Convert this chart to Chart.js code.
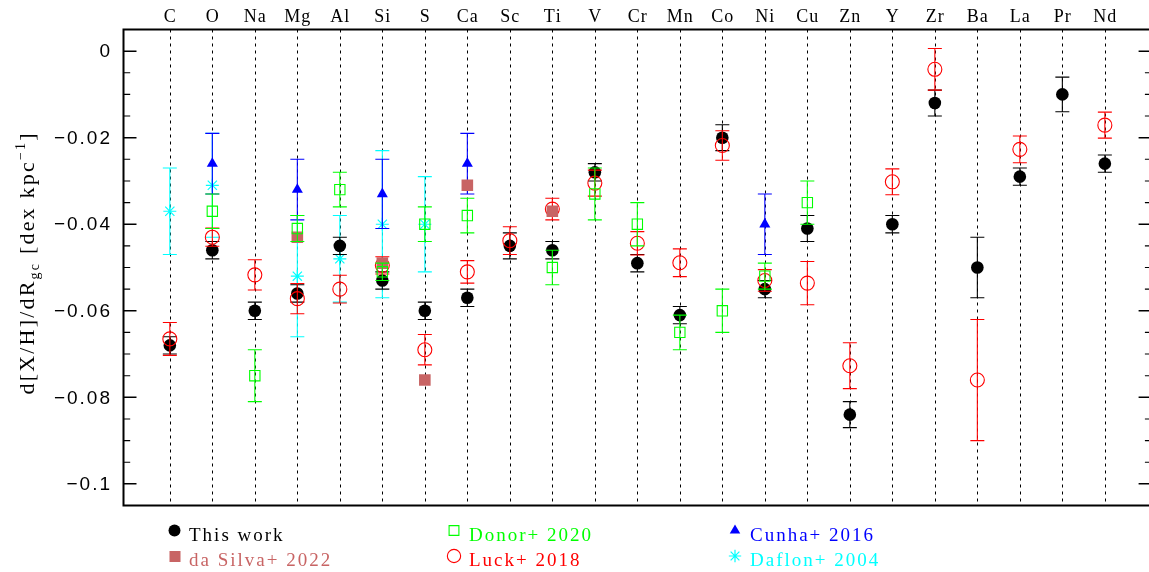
<!DOCTYPE html>
<html>
<head>
<meta charset="utf-8">
<script src="https://cdn.jsdelivr.net/npm/chart.js@4/dist/chart.umd.min.js"></script>
<style>
  html, body { margin: 0; padding: 0; background: #fff; overflow: hidden; }
  canvas { display: block; }
</style>
</head>
<body>
<canvas id="grad" width="1160" height="572"></canvas>
<script>
// Radial abundance gradients d[X/H]/dRgc per element (dex/kpc)
const elements = ['C','O','Na','Mg','Al','Si','S','Ca','Sc','Ti','V','Cr','Mn','Co','Ni','Cu','Zn','Y','Zr','Ba','La','Pr','Nd'];

const thisWork    = [-0.068,-0.046,-0.060,-0.056,-0.045,-0.053,-0.060,-0.057,-0.045,-0.046,-0.028,-0.049,-0.061,-0.020,-0.055,-0.041,-0.084,-0.040,-0.012,-0.050,-0.029,-0.010,-0.026];
const thisWorkErr = [0.002,0.002,0.002,0.002,0.002,0.002,0.002,0.002,0.003,0.002,0.002,0.002,0.002,0.003,0.002,0.003,0.003,0.002,0.003,0.007,0.002,0.004,0.002];

const daSilva2022 = [null,null,null,-0.043,null,-0.049,-0.076,-0.031,null,-0.037,null,null,null,null,null,null,null,null,null,null,null,null,null];

const donor2020    = [null,-0.037,-0.075,-0.041,-0.032,-0.051,-0.040,-0.038,null,-0.050,-0.033,-0.040,-0.065,-0.060,-0.052,-0.035,null,null,null,null,null,null,null];
const donor2020Err = [null,0.004,0.006,0.003,0.004,0.002,0.004,0.004,null,0.004,0.006,0.005,0.004,0.005,0.003,0.005,null,null,null,null,null,null,null];

const luck2018    = [-0.0665,-0.043,-0.0517,-0.0572,-0.055,-0.0495,-0.069,-0.051,-0.0438,-0.0365,-0.0305,-0.0444,-0.0489,-0.0218,-0.053,-0.0536,-0.0727,-0.0302,-0.0042,-0.076,-0.0227,null,-0.0171];
const luck2018Err = [0.0038,0.0021,0.0035,0.0035,0.0032,0.002,0.0035,0.0026,0.0032,0.0025,0.003,0.0027,0.0032,0.0034,0.0025,0.005,0.0053,0.003,0.0048,0.014,0.0031,null,0.003];

const cunha2016    = [null,-0.026,null,-0.032,null,-0.033,null,-0.026,null,null,null,null,null,null,-0.040,null,null,null,null,null,null,null,null];
const cunha2016Err = [null,0.007,null,0.007,null,0.008,null,0.007,null,null,null,null,null,null,0.007,null,null,null,null,null,null,null,null];

const daflon2004    = [-0.037,-0.031,null,-0.052,-0.048,-0.040,-0.040,null,null,null,null,null,null,null,null,null,null,null,null,null,null,null,null];
const daflon2004Err = [0.010,0.012,null,0.014,0.010,0.017,0.011,null,null,null,null,null,null,null,null,null,null,null,null,null,null,null,null];

const yMajorTicks = [0, -0.02, -0.04, -0.06, -0.08, -0.1];
const yTickLabels = ['0', '\u22120.02', '\u22120.04', '\u22120.06', '\u22120.08', '\u22120.1'];

const SERIF = '"Liberation Serif", "DejaVu Serif", serif';
const SANS = '"Liberation Sans", "DejaVu Sans", sans-serif';

function points(vals, errs) {
  const out = [];
  vals.forEach((v, i) => {
    if (v !== null) out.push({ x: i, y: v, e: errs ? errs[i] : null });
  });
  return out;
}

const series = [
  { label: 'This work',     data: points(thisWork, thisWorkErr),   color: '#000000', style: 'circle',   radius: 6.3, filled: true,  order: 4, bw: 0 },
  { label: 'da Silva+ 2022', data: points(daSilva2022, null),       color: '#c86464', style: 'rect',     radius: 8.2, filled: true,  order: 2, bw: 0 },
  { label: 'Donor+ 2020',   data: points(donor2020, donor2020Err), color: '#00ff00', style: 'rect',     radius: 7.3, filled: false, order: 1, bw: 1.1 },
  { label: 'Luck+ 2018',    data: points(luck2018, luck2018Err),   color: '#ff0000', style: 'circle',   radius: 7,   filled: false, order: 3, bw: 1.1 },
  { label: 'Cunha+ 2016',   data: points(cunha2016, cunha2016Err), color: '#0000ff', style: 'triangle', radius: 6.4, filled: true,  order: 5, bw: 0 },
  { label: 'Daflon+ 2004',  data: points(daflon2004, daflon2004Err), color: '#00ffff', style: 'star',   radius: 6.5, filled: false, order: 6, bw: 1.2 }
];

// Legend grid: [series index, marker x, marker y, text x, baseline]
const legendSlots = [
  [0, 174.5, 530.5, 189, 541],
  [1, 175, 556.5, 189, 565.5],
  [2, 454, 530.5, 469, 541],
  [3, 454, 556, 469, 565.5],
  [4, 735, 530.5, 750, 541],
  [5, 735, 556, 750, 565.5]
];

function charsWidth(ctx, text, spacing) {
  let w = 0;
  for (const ch of text) w += ctx.measureText(ch).width + spacing;
  return w - spacing;
}
function drawSpaced(ctx, text, x, y, spacing) {
  let cx = x;
  for (const ch of text) {
    ctx.fillText(ch, cx, y);
    cx += ctx.measureText(ch).width + spacing;
  }
  return cx - spacing;
}

const chartDecor = {
  id: 'chartDecor',
  beforeDraw(chart) {
    const ctx = chart.ctx;
    ctx.save();
    ctx.fillStyle = '#fff';
    ctx.fillRect(0, 0, chart.width, chart.height);
    ctx.restore();
  },
  beforeDatasetsDraw(chart) {
    const { ctx, chartArea: a, scales: { x } } = chart;
    ctx.save();
    ctx.strokeStyle = '#000';
    ctx.lineWidth = 1;
    ctx.setLineDash([3, 4]);
    elements.forEach((el, i) => {
      const px = Math.round(x.getPixelForValue(i)) + 0.5;
      ctx.beginPath();
      ctx.moveTo(px, a.top);
      ctx.lineTo(px, a.bottom);
      ctx.stroke();
    });
    ctx.restore();
  },
  beforeDatasetDraw(chart, args) {
    const ds = chart.data.datasets[args.index];
    const { ctx, scales: { x, y } } = chart;
    ctx.save();
    ctx.strokeStyle = ds.borderColor;
    ctx.lineWidth = 1.1;
    ds.data.forEach(p => {
      if (p.e === null || p.e === undefined) return;
      const px = x.getPixelForValue(p.x);
      const yt = y.getPixelForValue(p.y + p.e);
      const yb = y.getPixelForValue(p.y - p.e);
      ctx.beginPath();
      ctx.moveTo(px, yt); ctx.lineTo(px, yb);
      ctx.moveTo(px - 7, yt); ctx.lineTo(px + 7, yt);
      ctx.moveTo(px - 7, yb); ctx.lineTo(px + 7, yb);
      ctx.stroke();
    });
    ctx.restore();
  },
  afterDatasetsDraw(chart) {
    const { ctx, chartArea: a, scales: { x, y } } = chart;
    ctx.save();

    // frame
    ctx.strokeStyle = '#000';
    ctx.lineWidth = 2;
    ctx.strokeRect(a.left, a.top, a.right - a.left, a.bottom - a.top);

    // y ticks, drawn inward on both sides
    for (let k = 0; k <= 21; k++) {
      const v = -0.1 + k * 0.005;
      const py = y.getPixelForValue(v);
      const major = k % 4 === 0;
      const len = major ? 13 : 6.7;
      ctx.lineWidth = major ? 1.5 : 1.1;
      ctx.beginPath();
      ctx.moveTo(a.left, py); ctx.lineTo(a.left + len, py);
      ctx.moveTo(a.right, py); ctx.lineTo(a.right - len, py);
      ctx.stroke();
    }

    // y tick labels
    ctx.fillStyle = '#000';
    ctx.font = '19px ' + SANS;
    ctx.textBaseline = 'middle';
    ctx.textAlign = 'left';
    yMajorTicks.forEach((v, i) => {
      const py = y.getPixelForValue(v);
      const w = charsWidth(ctx, yTickLabels[i], 2);
      drawSpaced(ctx, yTickLabels[i], 110 - w, py + 1, 2);
    });

    // element names along the top
    ctx.font = '18px ' + SERIF;
    ctx.textBaseline = 'alphabetic';
    elements.forEach((el, i) => {
      const px = x.getPixelForValue(i);
      const w = charsWidth(ctx, el, 1);
      drawSpaced(ctx, el, px - w / 2, 22, 1);
    });

    // y-axis title
    ctx.save();
    ctx.translate(33.5, 264);
    ctx.rotate(-Math.PI / 2);
    const parts = [
      ['d[X/H]/dR', 22, 0],
      ['gc', 14, 5],
      [' [dex kpc', 22, 0],
      ['\u22121', 14, -9],
      [']', 22, 0]
    ];
    const sp = 2.2;
    let total = 0;
    parts.forEach(([t, s]) => { ctx.font = s + 'px ' + SERIF; total += charsWidth(ctx, t, sp) + sp; });
    total -= sp;
    let cx = -total / 2;
    parts.forEach(([t, s, dy]) => {
      ctx.font = s + 'px ' + SERIF;
      cx = drawSpaced(ctx, t, cx, dy, sp) + sp;
    });
    ctx.restore();

    // legend
    legendSlots.forEach(([si, mx, my, tx, ty]) => {
      const s = series[si];
      ctx.save();
      ctx.fillStyle = s.filled ? s.color : 'rgba(0,0,0,0)';
      ctx.strokeStyle = s.color;
      ctx.lineWidth = s.bw || 1;
      Chart.helpers.drawPoint(ctx, { pointStyle: s.style, radius: s.radius * 0.95, rotation: 0, borderWidth: s.bw }, mx, my);
      ctx.restore();
      ctx.fillStyle = s.color;
      ctx.font = '19px ' + SERIF;
      ctx.textBaseline = 'alphabetic';
      drawSpaced(ctx, s.label, tx, ty, 2);
    });

    ctx.restore();
  }
};

new Chart(document.getElementById('grad'), {
  type: 'scatter',
  data: {
    datasets: series.map(s => ({
      label: s.label,
      data: s.data,
      order: s.order,
      pointStyle: s.style,
      pointRadius: s.radius,
      pointHoverRadius: s.radius,
      backgroundColor: s.filled ? s.color : 'rgba(0,0,0,0)',
      borderColor: s.color,
      borderWidth: s.bw,
      showLine: false
    }))
  },
  options: {
    responsive: false,
    animation: false,
    devicePixelRatio: 1,
    events: [],
    layout: { padding: { left: 123.5, top: 29.5, right: 4, bottom: 66.5 } },
    plugins: { legend: { display: false }, tooltip: { enabled: false } },
    scales: {
      x: { type: 'linear', min: -1.09, max: 23.1, display: false },
      y: { type: 'linear', min: -0.105, max: 0.005, display: false }
    }
  },
  plugins: [chartDecor]
});
</script>
</body>
</html>
